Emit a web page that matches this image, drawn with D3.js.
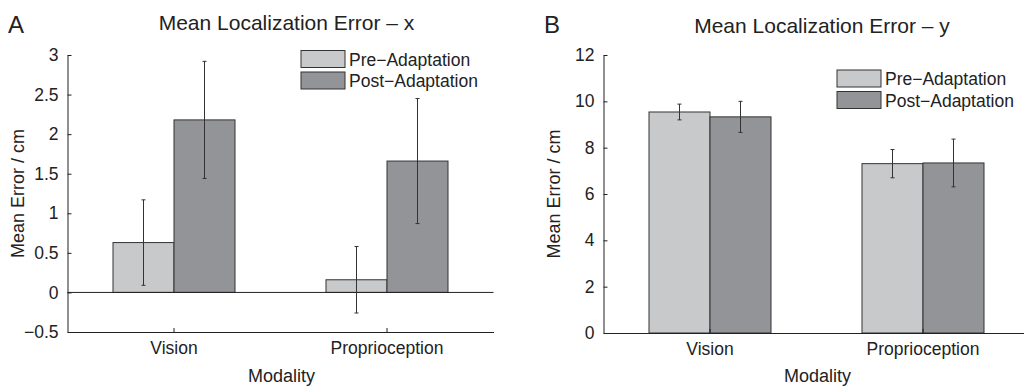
<!DOCTYPE html>
<html>
<head>
<meta charset="utf-8">
<script src="https://cdn.jsdelivr.net/npm/d3@7"></script>
<style>
  body { margin: 0; background: #fff; }
  svg { display: block; font-family: 'Liberation Sans', Arial, sans-serif; }
  .axis path, .axis line { stroke: #222; }
  .axis text { fill: #222; font-size: 17.5px; font-family: 'Liberation Sans', Arial, sans-serif; }
</style>
</head>
<body>
<svg width="1024" height="386"></svg>
<script>
const modalities = ['Vision', 'Proprioception'];
const seriesNames = ['Pre\u2212Adaptation', 'Post\u2212Adaptation'];
const seriesColors = ['#c8c9cb', '#939497'];

// panel A: error in x (cm)
const xPre = [0.63, 0.16];
const xPost = [2.18, 1.66];
const xPreErr = [0.54, 0.42];
const xPostErr = [0.74, 0.79];
const xTicks = [-0.5, 0, 0.5, 1, 1.5, 2, 2.5, 3];

// panel B: error in y (cm)
const yPre = [9.54, 7.31];
const yPost = [9.33, 7.34];
const yPreErr = [0.34, 0.61];
const yPostErr = [0.67, 1.03];
const yTicks = [0, 2, 4, 6, 8, 10, 12];

const svg = d3.select('svg');
const fmt = d => d3.format('')(d).replace('-', '\u2212');

function drawPanel(p) {
  const g = svg.append('g');

  const xScale = d3.scaleBand()
    .domain(modalities)
    .range([p.left, p.left + 426])
    .padding(0);

  const sScale = d3.scaleBand()
    .domain(seriesNames)
    .range([-61, 61]);

  const yScale = d3.scaleLinear()
    .domain(p.domain)
    .range([p.bottom, p.top]);

  const rows = [];
  modalities.forEach((m, i) => {
    rows.push({ m: m, s: seriesNames[0], v: p.pre[i], e: p.preErr[i], c: seriesColors[0] });
    rows.push({ m: m, s: seriesNames[1], v: p.post[i], e: p.postErr[i], c: seriesColors[1] });
  });
  const cx = d => xScale(d.m) + xScale.bandwidth() / 2;

  // bars
  g.selectAll('rect.bar')
    .data(rows)
    .enter()
    .append('rect')
    .attr('class', 'bar')
    .attr('x', d => cx(d) + sScale(d.s))
    .attr('width', sScale.bandwidth())
    .attr('y', d => yScale(Math.max(d.v, 0)))
    .attr('height', d => Math.abs(yScale(d.v) - yScale(0)))
    .style('fill', d => d.c)
    .style('stroke', '#333')
    .style('stroke-width', 1);

  // zero line
  if (p.domain[0] < 0) {
    g.append('line')
      .attr('x1', p.left).attr('x2', p.left + 426)
      .attr('y1', yScale(0)).attr('y2', yScale(0))
      .style('stroke', '#222');
  }

  // error bars
  const eb = g.selectAll('g.err')
    .data(rows)
    .enter()
    .append('g')
    .attr('class', 'err')
    .attr('transform', d => 'translate(' + (cx(d) + sScale(d.s) + sScale.bandwidth() / 2) + ',0)');
  eb.append('line')
    .attr('y1', d => yScale(d.v + d.e))
    .attr('y2', d => yScale(d.v - d.e))
    .style('stroke', '#333');
  eb.append('line')
    .attr('x1', -2).attr('x2', 2)
    .attr('y1', d => yScale(d.v + d.e)).attr('y2', d => yScale(d.v + d.e))
    .style('stroke', '#333');
  eb.append('line')
    .attr('x1', -2).attr('x2', 2)
    .attr('y1', d => yScale(d.v - d.e)).attr('y2', d => yScale(d.v - d.e))
    .style('stroke', '#333');

  // axes
  const yAxis = d3.axisLeft(yScale)
    .tickValues(p.ticks)
    .tickFormat(fmt)
    .tickSizeInner(-4)
    .tickSizeOuter(0)
    .tickPadding(9);
  g.append('g')
    .attr('class', 'axis')
    .attr('transform', 'translate(' + p.left + ',0)')
    .call(yAxis);

  const xAxis = d3.axisBottom(xScale)
    .tickSizeInner(-4)
    .tickSizeOuter(0)
    .tickPadding(10);
  g.append('g')
    .attr('class', 'axis')
    .attr('transform', 'translate(0,' + p.bottom + ')')
    .call(xAxis);

  // texts
  g.append('text')
    .attr('x', p.letterX).attr('y', p.letterY)
    .style('font-size', '24px').style('fill', '#222')
    .text(p.letter);
  g.append('text')
    .attr('x', p.titleX).attr('y', p.titleY)
    .attr('text-anchor', 'middle')
    .style('font-size', '21px').style('fill', '#222')
    .text(p.title);
  g.append('text')
    .attr('x', p.left + 213 + 1).attr('y', 382)
    .attr('text-anchor', 'middle')
    .style('font-size', '18px').style('fill', '#222')
    .text('Modality');
  g.append('text')
    .attr('transform', 'translate(' + p.ylabX + ',' + ((p.top + p.bottom) / 2) + ') rotate(-90)')
    .attr('text-anchor', 'middle')
    .style('font-size', '18px').style('fill', '#222')
    .text('Mean Error / cm');

  // legend
  const lg = g.selectAll('g.legend')
    .data(seriesNames)
    .enter()
    .append('g')
    .attr('class', 'legend')
    .attr('transform', (d, i) => 'translate(' + p.legX + ',' + (p.legY + i * 21.5) + ')');
  lg.append('rect')
    .attr('width', 44).attr('height', 17)
    .style('fill', (d, i) => seriesColors[i])
    .style('stroke', '#333');
  lg.append('text')
    .attr('x', 48).attr('y', 15)
    .style('font-size', '17.5px').style('fill', '#222')
    .text(d => d);
}

drawPanel({
  left: 67.5, top: 55, bottom: 332, domain: [-0.5, 3], ticks: xTicks,
  pre: xPre, post: xPost, preErr: xPreErr, postErr: xPostErr,
  letter: 'A', letterX: 8, letterY: 32.5,
  title: 'Mean Localization Error \u2013 x', titleX: 286.5, titleY: 29.5,
  ylabX: 24, legX: 301, legY: 50.5
});

drawPanel({
  left: 603.5, top: 55, bottom: 333, domain: [0, 12], ticks: yTicks,
  pre: yPre, post: yPost, preErr: yPreErr, postErr: yPostErr,
  letter: 'B', letterX: 544, letterY: 33.3,
  title: 'Mean Localization Error \u2013 y', titleX: 822, titleY: 33.3,
  ylabX: 560, legX: 837, legY: 70
});
</script>
</body>
</html>
